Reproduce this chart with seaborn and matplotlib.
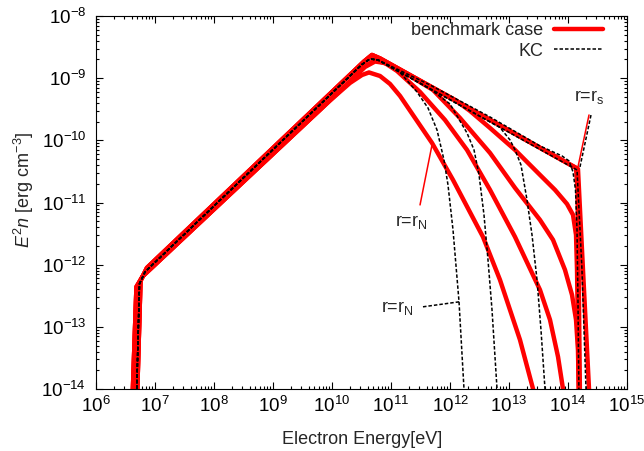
import numpy as np
import pandas as pd
import matplotlib
matplotlib.use("Agg")
import matplotlib.pyplot as plt
from matplotlib.ticker import LogLocator, NullFormatter
from matplotlib.lines import Line2D
import seaborn as sns

# Electron spectra E^2 n(E) at radii between the termination shock (r_s)
# and the nebula edge (r_N).  Values are log10(E / eV) and log10(E^2 n / erg cm^-3).

# low-energy cutoff + rising power law (benchmark curves close to r_s)
rise_hi_logE = [6.695, 6.754, 6.864, 10.542, 10.678, 10.814]
rise_hi_logN = [-14.174, -12.260, -12.051, -8.733, -8.627, -8.683]
# same, benchmark curves further out
rise_lo_logE = [6.619, 6.686, 6.797]
rise_lo_logN = [-14.174, -12.357, -12.180]

# benchmark case, high-energy parts
bench1_logE = [9.966, 10.305, 10.508, 10.627, 10.814, 10.983, 11.153, 11.695, 12.051,
               12.559, 12.847, 13.186, 13.407, 13.458]
bench1_logN = [-9.359, -9.077, -8.949, -8.908, -8.965, -9.093, -9.286, -10.042, -10.637,
               -11.553, -12.244, -13.209, -13.997, -14.174]
bench2_logE = [10.305, 10.559, 10.729, 10.898, 11.102, 11.492, 11.915, 12.288, 12.678,
               13.102, 13.525, 13.695, 13.831, 13.915, 13.949]
bench2_logN = [-9.053, -8.820, -8.732, -8.756, -8.884, -9.222, -9.672, -10.154, -10.797,
               -11.553, -12.405, -12.887, -13.482, -13.997, -14.174]
bench3_logE = [10.305, 10.559, 10.729, 10.983, 11.322, 11.712, 12.169, 12.678, 13.102,
               13.525, 13.746, 13.949, 14.068, 14.136, 14.169, 14.186]
bench3_logN = [-9.053, -8.804, -8.707, -8.788, -8.965, -9.190, -9.640, -10.203, -10.765,
               -11.280, -11.601, -12.084, -12.486, -12.887, -13.370, -14.174]
bench4_logE = [12.085, 12.339, 12.678, 13.102, 13.525, 13.780, 13.983, 14.085, 14.136,
               14.153, 14.169, 14.186]
bench4_logN = [-9.350, -9.527, -9.801, -10.154, -10.556, -10.797, -11.023, -11.199, -11.521,
               -12.084, -13.048, -14.174]
bench5_logE = [14.136, 14.161, 14.186, 14.203]
bench5_logN = [-10.444, -10.797, -12.566, -14.174]
bench_s_logE = [14.169, 14.254, 14.356, 14.378]
bench_s_logN = [-10.460, -12.084, -13.997, -14.174]

# KC model
kc_rise_logE = [6.686, 6.737, 6.831, 10.508, 10.644, 10.780]
kc_rise_logN = [-14.174, -12.309, -12.116, -8.780, -8.691, -8.707]
kc1_logE = [11.153, 11.441, 11.627, 11.780, 11.898, 11.966, 12.051, 12.153, 12.237, 12.249]
kc1_logN = [-8.908, -9.222, -9.479, -9.833, -10.315, -10.717, -11.441, -12.598, -13.997, -14.174]
kc2_logE = [11.661, 12.000, 12.288, 12.407, 12.492, 12.576, 12.644, 12.712, 12.797, 12.808]
kc2_logN = [-9.174, -9.415, -9.881, -10.154, -10.556, -11.199, -11.923, -12.727, -13.997, -14.174]
kc3_logE = [12.847, 13.017, 13.102, 13.203, 13.305, 13.390, 13.475, 13.542, 13.610, 13.620]
kc3_logN = [-9.793, -9.994, -10.154, -10.395, -10.958, -11.521, -12.244, -13.048, -13.997, -14.174]
kc4_logE = [11.661, 12.678, 13.525, 13.898, 14.017, 14.085, 14.127, 14.153, 14.169, 14.186]
kc4_logN = [-9.109, -9.624, -10.090, -10.251, -10.331, -10.508, -10.797, -11.441, -12.566, -14.174]
kc_s_logE = [14.153, 14.237, 14.305, 14.315]
kc_s_logN = [-10.476, -12.084, -13.997, -14.174]

# annotation pointers (log10 E, log10 E^2 n)
ptr_rs_red = ([14.169, 14.356], [-10.428, -9.592])
ptr_rs_kc = ([14.203, 14.390], [-10.428, -9.592])
ptr_rN_red = ([11.492, 11.695], [-11.039, -10.074])
ptr_rN_kc = ([11.542, 12.153], [-12.678, -12.598])


def build(curves):
    rows = []
    for name, (le, ln) in curves.items():
        for a, b in zip(le, ln):
            rows.append((name, 10.0 ** a, 10.0 ** b))
    return pd.DataFrame(rows, columns=["curve", "energy", "e2n"])


bench = build({
    "r_N": (rise_lo_logE + bench1_logE, rise_lo_logN + bench1_logN),
    "b2": (rise_lo_logE + bench2_logE, rise_lo_logN + bench2_logN),
    "b3": (rise_lo_logE + bench3_logE, rise_lo_logN + bench3_logN),
    "b4": (rise_hi_logE + bench4_logE, rise_hi_logN + bench4_logN),
    "b5": (rise_hi_logE + bench5_logE, rise_hi_logN + bench5_logN),
    "r_s": (rise_hi_logE + bench_s_logE, rise_hi_logN + bench_s_logN),
})
kc = build({
    "r_N": (kc_rise_logE + kc1_logE, kc_rise_logN + kc1_logN),
    "k2": (kc_rise_logE + kc2_logE, kc_rise_logN + kc2_logN),
    "k3": (kc_rise_logE + kc3_logE, kc_rise_logN + kc3_logN),
    "k4": (kc_rise_logE + kc4_logE, kc_rise_logN + kc4_logN),
    "r_s": (kc_rise_logE + kc_s_logE, kc_rise_logN + kc_s_logN),
})

sns.set_theme(style="ticks")
plt.rcParams.update({
    "font.family": ["Liberation Sans", "DejaVu Sans"],
    "mathtext.fontset": "custom",
    "mathtext.rm": "Liberation Sans",
    "mathtext.it": "Liberation Sans:italic",
    "mathtext.bf": "Liberation Sans:bold",
    "axes.linewidth": 0.8,
    "axes.edgecolor": "black",
})

RED = "#ff0000"
DASH = (0, (2.3, 1.3))
LW_RED = 3.2
LW_KC = 1.1

fig = plt.figure(figsize=(6.44, 4.51), dpi=100)
ax = fig.add_axes([96 / 644, 1 - 389 / 451, 531 / 644, 373 / 451])
ax.set_xscale("log")
ax.set_yscale("log")

sns.lineplot(data=bench, x="energy", y="e2n", units="curve", estimator=None, sort=False,
             color=RED, linewidth=LW_RED, solid_joinstyle="round", legend=False, ax=ax)
sns.lineplot(data=kc, x="energy", y="e2n", units="curve", estimator=None, sort=False,
             color="black", linewidth=LW_KC, linestyle=DASH, legend=False, ax=ax)

# pointers to the labelled curves
for (px, py), col, ls in [(ptr_rs_red, RED, "-"), (ptr_rN_red, RED, "-"),
                          (ptr_rs_kc, "black", DASH), (ptr_rN_kc, "black", DASH)]:
    ax.plot([10 ** v for v in px], [10 ** v for v in py], color=col, lw=LW_KC, linestyle=ls)

txt = dict(fontsize=13, ha="center", va="baseline")
ax.text(10 ** 14.356, 10 ** -9.367, r"r=r$_\mathregular{s}$", **txt)
ax.text(10 ** 11.339, 10 ** -11.376, r"r=r$_\mathregular{N}$", **txt)
ax.text(10 ** 11.102, 10 ** -12.759, r"r=r$_\mathregular{N}$", **txt)

ax.set_xlim(1e6, 1e15)
ax.set_ylim(1e-14, 1e-8)
ax.xaxis.set_major_locator(LogLocator(base=10, numticks=20))
ax.yaxis.set_major_locator(LogLocator(base=10, numticks=20))
for axis in (ax.xaxis, ax.yaxis):
    axis.set_minor_locator(LogLocator(base=10, subs=np.arange(2, 10), numticks=100))
    axis.set_minor_formatter(NullFormatter())

ax.tick_params(which="both", direction="in", top=True, right=True, width=0.8, colors="black")
ax.tick_params(which="major", length=5)
ax.tick_params(which="minor", length=2.5)
ax.tick_params(axis="x", which="major", labelsize=13.5, pad=5)
ax.tick_params(axis="y", which="major", labelsize=13.5, pad=7)

ax.set_xlabel("Electron Energy[eV]", fontsize=13)
ax.set_ylabel(r"$E^2n$ [erg cm$^{-3}$]", fontsize=13)
ax.xaxis.set_label_coords(0.501, -0.112)
ax.yaxis.set_label_coords(-0.113, 0.534)

handles = [Line2D([], [], color=RED, lw=LW_RED),
           Line2D([], [], color="black", lw=LW_KC, linestyle=DASH)]
ax.legend(handles, ["benchmark case", "KC"], loc="upper right",
          bbox_to_anchor=((603 - 96) / 531, (389 - 22) / 373), frameon=False,
          markerfirst=False, fontsize=13, handlelength=2.7, handletextpad=0.6,
          labelspacing=0.2, borderpad=0, borderaxespad=0)

fig.savefig("out.png", dpi=100)
